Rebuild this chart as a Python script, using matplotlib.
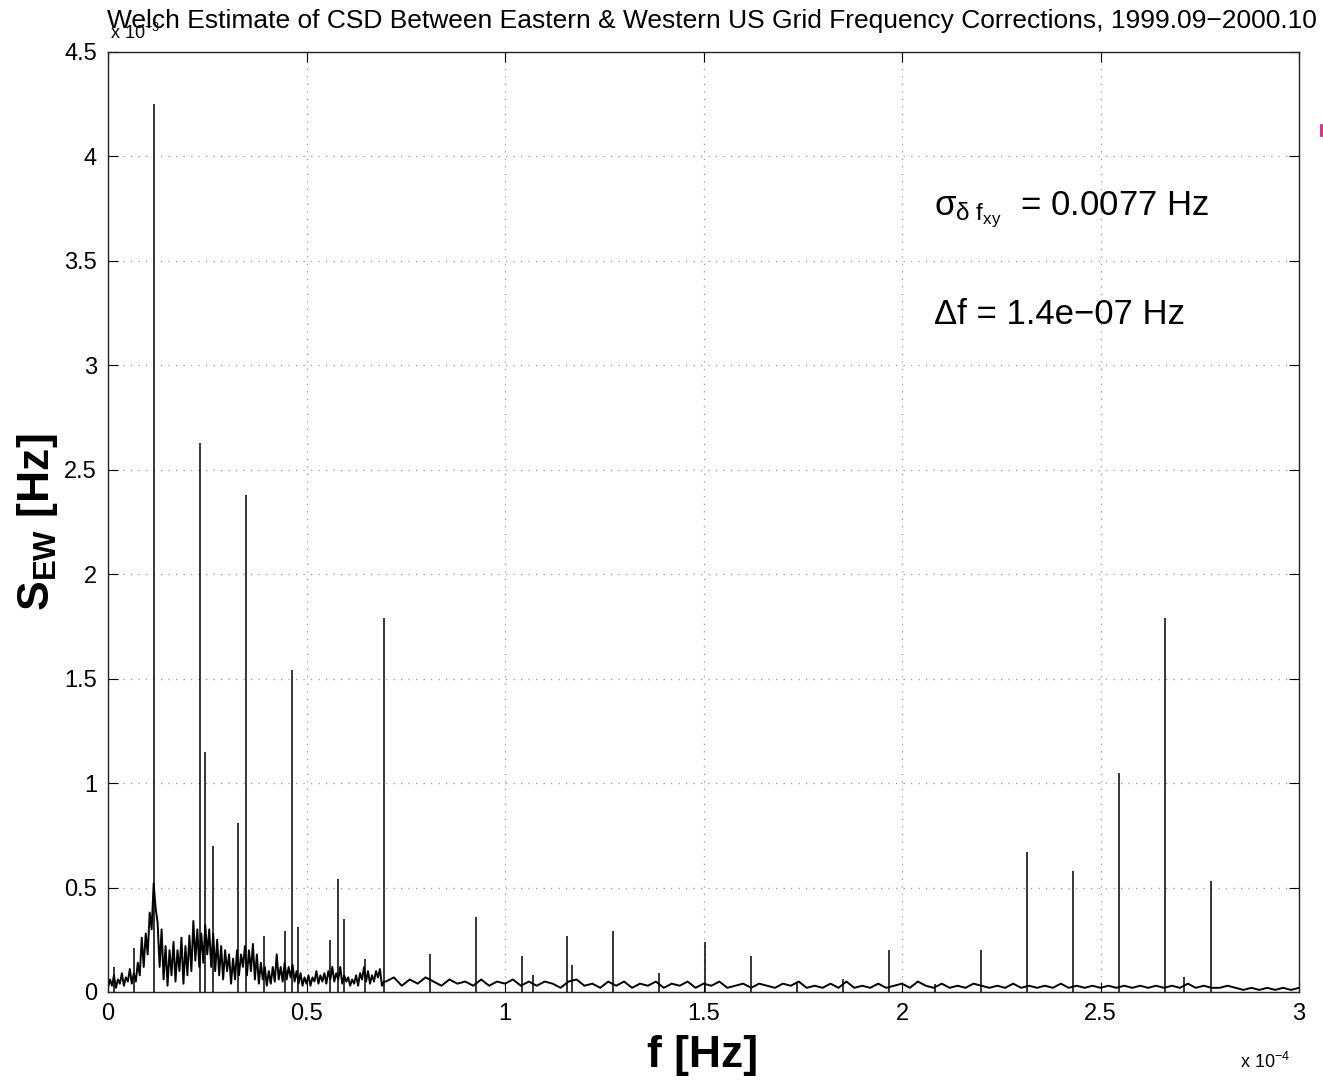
# -*- coding: utf-8 -*-
# Welch CSD estimate, Eastern vs Western US grid frequency corrections
import numpy as np
import matplotlib
matplotlib.use('Agg')
import matplotlib.pyplot as plt
from matplotlib.lines import Line2D

plt.rcParams['font.family'] = ['Liberation Sans', 'DejaVu Sans']
plt.rcParams['mathtext.fontset'] = 'custom'
plt.rcParams['mathtext.rm'] = 'Liberation Sans'
plt.rcParams['mathtext.it'] = 'Liberation Sans'

# frequency in units of 1e-4 Hz, spectrum in units of 1e-3 Hz
# noise floor, low band: read every 0.005 from 0.00
low_start, low_step = 0.00, 0.005
low_vals = [0.02, 0.06, 0.03, 0.08, 0.02, 0.06, 0.04, 0.09, 0.03, 0.07,
            0.05, 0.11, 0.04, 0.09, 0.05, 0.14, 0.08, 0.26, 0.12, 0.28,
            0.18, 0.38, 0.30, 0.52, 0.40, 0.33, 0.12, 0.30, 0.06, 0.22,
            0.03, 0.20, 0.08, 0.24, 0.05, 0.20, 0.10, 0.26, 0.04, 0.22,
            0.08, 0.27, 0.10, 0.34, 0.15, 0.30, 0.12, 0.28, 0.14, 0.32,
            0.18, 0.30, 0.12, 0.28, 0.10, 0.25, 0.08, 0.22, 0.06, 0.20,
            0.10, 0.18, 0.04, 0.16, 0.06, 0.20, 0.08, 0.18, 0.12, 0.22,
            0.08, 0.20, 0.10, 0.23, 0.06, 0.18, 0.04, 0.14, 0.06, 0.12,
            0.03, 0.10, 0.04, 0.12, 0.05, 0.18, 0.06, 0.12, 0.05, 0.14,
            0.06, 0.12, 0.07, 0.13, 0.05, 0.10, 0.04, 0.09, 0.03, 0.07,
            0.04, 0.08, 0.03, 0.07, 0.05, 0.10, 0.04, 0.08, 0.05, 0.09,
            0.04, 0.10, 0.06, 0.12, 0.05, 0.09, 0.06, 0.12, 0.04, 0.08,
            0.05, 0.07, 0.03, 0.06, 0.04, 0.08, 0.03, 0.09, 0.06, 0.12,
            0.05, 0.10, 0.04, 0.08, 0.05, 0.10, 0.07, 0.11, 0.03, 0.05]

# noise floor, high band: read every 0.02 from 0.70
high_start, high_step = 0.70, 0.02
high_vals = [0.05, 0.07, 0.03, 0.06, 0.04, 0.07, 0.05, 0.03, 0.06, 0.04,
             0.05, 0.03, 0.06, 0.03, 0.05, 0.04, 0.06, 0.03, 0.05, 0.03,
             0.05, 0.04, 0.02, 0.05, 0.06, 0.03, 0.04, 0.02, 0.05, 0.03,
             0.05, 0.02, 0.04, 0.03, 0.05, 0.02, 0.04, 0.03, 0.05, 0.02,
             0.04, 0.03, 0.05, 0.02, 0.03, 0.04, 0.02, 0.04, 0.03, 0.02,
             0.04, 0.03, 0.05, 0.02, 0.03, 0.02, 0.04, 0.02, 0.05, 0.02,
             0.03, 0.02, 0.04, 0.02, 0.03, 0.04, 0.02, 0.05, 0.03, 0.02,
             0.04, 0.02, 0.03, 0.02, 0.04, 0.03, 0.02, 0.03, 0.02, 0.04,
             0.02, 0.03, 0.02, 0.03, 0.02, 0.04, 0.02, 0.03, 0.02, 0.03,
             0.02, 0.03, 0.02, 0.03, 0.02, 0.03, 0.02, 0.03, 0.02, 0.03,
             0.02, 0.04, 0.02, 0.03, 0.02, 0.02, 0.03, 0.02, 0.01, 0.02,
             0.01, 0.02, 0.01, 0.02, 0.01, 0.02]

# narrow spectral lines (daily harmonics and others)
peak_f = [0.015, 0.065, 0.116, 0.231, 0.245, 0.264, 0.328, 0.347, 0.393,
          0.446, 0.463, 0.479, 0.559, 0.579, 0.594, 0.647, 0.694, 0.810,
          0.926, 1.042, 1.070, 1.157, 1.170, 1.273, 1.389, 1.505, 1.620,
          1.736, 1.852, 1.968, 2.083, 2.199, 2.315, 2.431, 2.546, 2.662,
          2.710, 2.778]
peak_h = [0.12, 0.21, 4.25, 2.63, 1.15, 0.70, 0.81, 2.38, 0.27,
          0.29, 1.54, 0.31, 0.25, 0.54, 0.35, 0.16, 1.79, 0.18,
          0.36, 0.17, 0.08, 0.27, 0.13, 0.29, 0.09, 0.24, 0.17,
          0.05, 0.06, 0.20, 0.04, 0.20, 0.67, 0.58, 1.05, 1.79,
          0.07, 0.53]

title = ('Welch Estimate of CSD Between Eastern & Western US Grid '
         'Frequency Corrections, 1999.09\u22122000.10')

low_f = low_start + low_step * np.arange(len(low_vals))
high_f = high_start + high_step * np.arange(len(high_vals))
f_all = np.concatenate([low_f, high_f])
s_all = np.concatenate([low_vals, high_vals])

fig = plt.figure(figsize=(13.23, 10.83), dpi=100)
ax = fig.add_axes([108/1323, 1-992/1083, (1299-108)/1323, (992-52)/1083])

ax.plot(f_all, s_all, color='k', lw=1.4)
ax.vlines(peak_f, 0, peak_h, color='k', lw=1.1)

ax.set_xlim(0, 3)
ax.set_ylim(0, 4.5)
ax.set_xticks(np.arange(0, 3.01, 0.5))
ax.set_yticks(np.arange(0, 4.51, 0.5))
ax.set_xticklabels(['0', '0.5', '1', '1.5', '2', '2.5', '3'])
ax.set_yticklabels(['0', '0.5', '1', '1.5', '2', '2.5', '3', '3.5', '4', '4.5'])
ax.tick_params(direction='in', length=7, width=0.8, top=True, right=True,
               labelsize=17, pad=8)
ax.grid(True, linestyle=(0, (1, 5)), color='#999999', lw=0.9)
for sp in ax.spines.values():
    sp.set_linewidth(1.0)
    sp.set_color('#222222')

# labels
fig.text(38/1323, 1-522/1083, r'S$_{\mathregular{EW}}$ [Hz]', rotation=90,
         fontsize=32, fontweight='bold', ha='center', va='center')
fig.text(703/1323, 1-1055/1083, 'f [Hz]', fontsize=32, fontweight='bold',
         ha='center', va='center')
fig.text(1290/1323, 1-1068/1083, r'x 10$^{\mathregular{-4}}$', fontsize=13,
         ha='right', va='baseline')
fig.text(110/1323, 1-39/1083, r'x 10$^{\mathregular{-3}}$', fontsize=13,
         ha='left', va='baseline')
fig.text(712/1323, 1-28/1083, title, fontsize=19, ha='center',
         va='baseline')

# annotations
ax.text(2.08, 3.72, r'$\sigma_{\delta\ f_{xy}}$  = 0.0077 Hz', fontsize=25)
ax.text(2.08, 3.20, '\u0394f = 1.4e\u221207 Hz', fontsize=25)

# stray magenta mark at right edge
fig.add_artist(Line2D([1321/1323, 1321/1323], [1-125/1083, 1-135/1083],
                      color='#e0208a', lw=2))

plt.savefig('out.png', dpi=100)
